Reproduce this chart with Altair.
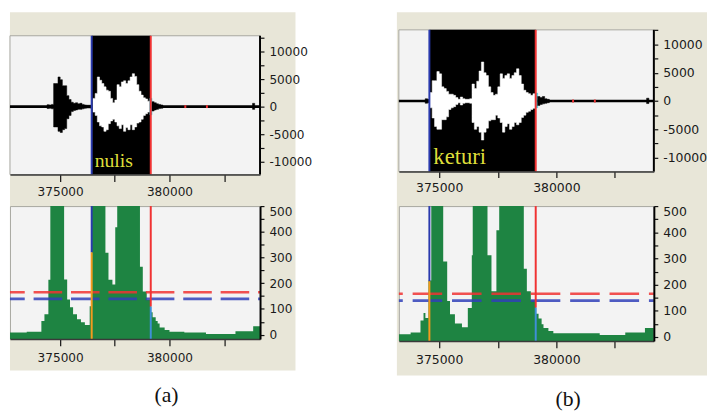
import altair as alt
import pandas as pd

BIN = 100
BEIGE = "#E8E6D8"
PLOT_BG = "#F3F3F3"
GREEN = "#1E8442"
RED = "#F03232"
BLUE = "#2A3AAE"
ORANGE = "#F39A1E"
LIGHTBLUE = "#3F8FD8"
CYAN = "#3CC8D8"
YELLOW = "#DEDE3A"
AXFONT = "DejaVu Sans"

x_tick_values = [372500, 375000, 377500, 380000, 382500]
wave_tick_values = [-12500, -10000, -7500, -5000, -2500, 0, 2500, 5000, 7500, 10000, 12500]
energy_tick_values = [0, 50, 100, 150, 200, 250, 300, 350, 400, 450, 500]
thresholds = [165, 139]  # red, blue

# ---------------- panel (a) ----------------
a_word = "nulis"
a_word_pos = [376577, -10931]
a_caption = "(a)"
a_caption_pos = [379865, -235]
a_sel = [376442, 379144]
a_wave_start = 374400
a_wave_top = [350, 300, 400, 4200, 4200, 5400, 4900, 3800, 3800, 2000, 1300, 800, 600, 700, 500, 600,
              400, 300, 250, 250, 300, 1500, 2400, 5400, 4800, 4200, 3600, 3000, 2800, 1500, 700, 1200,
              4000, 3600, 4500, 4700, 4200, 4700, 5400, 6000, 5500, 4000, 2800, 2100, 1600, 1400, 1000,
              1500, 900, 700, 500, 400, 300]
a_wave_bot = [-350, -300, -400, -3700, -3700, -4500, -4700, -4200, -4000, -2200, -1600, -900, -700, -600,
              -500, -500, -400, -300, -250, -250, -300, -1000, -1600, -2800, -3500, -3700, -4500, -4200,
              -3100, -2600, -2300, -2800, -3500, -4000, -3300, -4500, -3800, -4200, -3300, -4200, -3700,
              -3000, -2800, -2300, -1600, -1300, -1000, -1500, -800, -600, -500, -350, -300]
a_marker_x = [380680, 381670]
a_bump_x = [383800]
a_bump_top = [600]
a_bump_bot = [-500]
a_energy_x = [372703, 373470, 374140, 374280, 374460, 374550, 375180, 375320, 375450, 375590, 375770,
              375950, 376130, 376350, 376440, 377070, 377210, 377390, 377520, 377610, 378650, 378780,
              378960, 379140, 379230, 379370, 379460, 379550, 379780, 380000, 380680, 381670, 383020,
              383830]
a_energy_v = [8, 11, 53, 79, 213, 600, 214, 137, 106, 79, 60, 48, 37, 110, 600, 318, 213, 195, 418, 600,
              264, 168, 135, 87, 68, 53, 43, 28, 18, 11, 8, 2, 13, 33]
a_energy_split = [320, 109]

# ---------------- panel (b) ----------------
b_word = "keturi"
b_word_pos = [374748, -11080]
b_caption = "(b)"
b_caption_pos = [380504, -237]
b_sel = [374580, 379118]
b_wave_start = 374400
b_wave_top = [400, 300, 1500, 3600, 3600, 5200, 4800, 2500, 2200, 1700, 1200, 1200, 1000, 600, 300, 700,
              400, 300, 300, 400, 3000, 2200, 3500, 5300, 6900, 5000, 4500, 2500, 1500, 1000, 1200, 2500,
              4800, 4000, 4500, 4800, 4000, 4500, 5000, 5700, 4500, 3000, 1900, 1500, 1300, 1000, 1300,
              1400, 800, 600, 800, 400, 300]
b_wave_bot = [-400, -300, -1200, -3000, -4500, -5000, -5000, -3300, -3300, -2800, -1500, -1200, -1000,
              -600, -300, -700, -400, -300, -300, -400, -3800, -5000, -4500, -5500, -6900, -5500, -4800,
              -3500, -3300, -3300, -2500, -3000, -3800, -5500, -4500, -4000, -5000, -4500, -3800, -4200,
              -3800, -2900, -2500, -2000, -1800, -1500, -1300, -1200, -800, -600, -500, -400, -300]
b_marker_x = [380670, 381600]
b_bump_x = [383850]
b_bump_top = [500]
b_bump_bot = [-450]
b_energy_x = [373277, 373780, 374200, 374330, 374410, 374540, 374660, 375170, 375340, 375460, 375670,
              375970, 376220, 376390, 376430, 377060, 377230, 377440, 377560, 378610, 378740, 378910,
              379120, 379240, 379370, 379450, 379660, 379870, 381850, 382940, 383780]
b_energy_v = [11, 17, 63, 92, 73, 216, 600, 288, 138, 87, 52, 37, 111, 312, 600, 312, 175, 408, 600, 261,
              175, 140, 89, 71, 49, 34, 23, 14, 8, 17, 34]
b_energy_split = [213, 112]

# layout / style parameters per panel
A = dict(x_domain=[372703, 384144], width=254, wave_domain=[-12370, 12900], wave_h=141, pad_top=6,
         band_px=[0, 290, -18, 346], energy_domain=[-17, 500], energy_h=135, font=12.3,
         wave_tick=7, wave_lpad=4, en_tick=7, en_lpad=6, word_size=20, dash=[29, 9], dash_off=14,
         word=a_word, word_pos=a_word_pos, caption=a_caption, caption_pos=a_caption_pos, sel=a_sel,
         wave_start=a_wave_start, wave_top=a_wave_top, wave_bot=a_wave_bot, marker_x=a_marker_x,
         bump_x=a_bump_x, bump_top=a_bump_top, bump_bot=a_bump_bot, energy_x=a_energy_x,
         energy_v=a_energy_v, energy_split=a_energy_split)
B = dict(x_domain=[373277, 384160], width=259, wave_domain=[-12480, 12580], wave_h=144, pad_top=0,
         band_px=[-2, 313, -18, 351], energy_domain=[-15, 500], energy_h=137, font=12.6,
         wave_tick=6, wave_lpad=4, en_tick=7, en_lpad=6, word_size=23, dash=[30, 10], dash_off=26,
         word=b_word, word_pos=b_word_pos, caption=b_caption, caption_pos=b_caption_pos, sel=b_sel,
         wave_start=b_wave_start, wave_top=b_wave_top, wave_bot=b_wave_bot, marker_x=b_marker_x,
         bump_x=b_bump_x, bump_top=b_bump_top, bump_bot=b_bump_bot, energy_x=b_energy_x,
         energy_v=b_energy_v, energy_split=b_energy_split)


def wave_color(s, sel):
    if s < sel[0]:
        return "black"
    if s + BIN <= sel[1]:
        return "white"
    if s < sel[1]:
        return CYAN
    return "black"


def wave_segments(p):
    """Split the envelope into runs of equal colour; each run is a step-area."""
    segs = []
    cur = None
    n = len(p["wave_top"])
    for i, (hi, lo) in enumerate(zip(p["wave_top"], p["wave_bot"])):
        s = p["wave_start"] + i * BIN
        c = wave_color(s, p["sel"])
        if cur is None or c != cur["c"]:
            if cur is not None:
                last = cur["rows"][-1]
                cur["rows"].append({"x": s, "lo": last["lo"], "hi": last["hi"]})
            cur = {"c": c, "rows": []}
            segs.append(cur)
        cur["rows"].append({"x": s, "lo": lo, "hi": hi})
    last = cur["rows"][-1]
    cur["rows"].append({"x": p["wave_start"] + n * BIN, "lo": last["lo"], "hi": last["hi"]})
    for s, hi, lo in zip(p["bump_x"], p["bump_top"], p["bump_bot"]):
        segs.append({"c": "black", "rows": [{"x": s, "lo": lo, "hi": hi},
                                            {"x": s + BIN, "lo": lo, "hi": hi}]})
    return [(sg["c"], pd.DataFrame(sg["rows"])) for sg in segs]


def build(p):
    xd = p["x_domain"]
    W = p["width"]
    upx = (xd[1] - xd[0]) / W
    wb, wt = p["wave_domain"]
    upy = (wt - wb) / p["wave_h"]
    ytop = wt + p["pad_top"] * upy
    H = p["wave_h"] + p["pad_top"]
    fs = p["font"]
    xs = alt.Scale(domain=xd, nice=False, zero=False)
    ys = alt.Scale(domain=[wb, ytop], nice=False, zero=False)
    xticks = [v for v in x_tick_values if xd[0] <= v <= xd[1]]

    def xaxis(tick, pad):
        return alt.Axis(values=xticks, format="d",
                        labelExpr="datum.value % 5000 == 0 ? datum.label : ''",
                        title=None, grid=False, tickSize=tick, labelPadding=pad,
                        domainColor="#3a3a3a", domainWidth=1.5, tickColor="#111111", tickWidth=1.2,
                        labelFont=AXFONT, labelFontSize=fs, labelColor="#1a1a1a",
                        labelOverlap=False, labelFlush=False, zindex=1)

    wyaxis = alt.Axis(orient="right", values=[v for v in wave_tick_values if wb <= v <= wt],
                      labelExpr="datum.value % 5000 == 0 ? '' + datum.value : ''",
                      title=None, grid=False, domain=False, tickSize=4, labelPadding=5,
                      tickColor="#111111", tickWidth=1.2, labelFont=AXFONT, labelFontSize=fs,
                      labelColor="#1a1a1a", labelOverlap=False, labelFlush=False, zindex=1)
    wxaxis = xaxis(p["wave_tick"], p["wave_lpad"])

    X = lambda f: alt.X(f, type="quantitative", scale=xs, axis=wxaxis)
    Y = lambda f: alt.Y(f, type="quantitative", scale=ys, axis=wyaxis)

    bx0, bx1, btop, bbot = p["band_px"]
    beige = alt.Chart(pd.DataFrame({
        "x": [xd[0] + bx0 * upx], "x2": [xd[0] + bx1 * upx],
        "y": [ytop - bbot * upy], "y2": [ytop - btop * upy]})).mark_rect(
        color=BEIGE, clip=False).encode(x=X("x"), x2="x2", y=Y("y"), y2="y2")
    bg = alt.Chart(pd.DataFrame({"x": [xd[0]], "x2": [xd[1]], "y": [wb], "y2": [wt]})).mark_rect(
        color=PLOT_BG, stroke="#A8A8A0", strokeWidth=1).encode(x=X("x"), x2="x2", y=Y("y"), y2="y2")
    baseline = alt.Chart(pd.DataFrame({"x": [xd[0]], "x2": [xd[1]], "y": [0]})).mark_rule(
        color="black", strokeWidth=2.6).encode(x=X("x"), x2="x2", y=Y("y"))
    sel = p["sel"]
    selrect = alt.Chart(pd.DataFrame({"x": [sel[0]], "x2": [sel[1]], "y": [wb], "y2": [wt]})).mark_rect(
        color="black").encode(x=X("x"), x2="x2", y=Y("y"), y2="y2")

    waves = []
    for c, df in wave_segments(p):
        waves.append(alt.Chart(df).mark_area(interpolate="step-after", color=c, opacity=1,
                                             stroke=c, strokeWidth=0.5).encode(
            x=X("x"), y=Y("lo"), y2=alt.Y2("hi")))

    markers = alt.Chart(pd.DataFrame({"x": p["marker_x"], "x2": [v + 2 * upx for v in p["marker_x"]],
                                      "y": [-260] * len(p["marker_x"]),
                                      "y2": [260] * len(p["marker_x"])})).mark_rect(
        color="#E83030").encode(x=X("x"), x2="x2", y=Y("y"), y2="y2")

    bounds = alt.Chart(pd.DataFrame({"x": [sel[0], sel[1]], "y": [wb, wb], "y2": [wt, wt],
                                     "c": [BLUE, RED]})).mark_rule(strokeWidth=2).encode(
        x=X("x"), y=Y("y"), y2="y2", color=alt.Color("c:N", scale=None))
    rdomain = alt.Chart(pd.DataFrame({"x": [xd[1]], "y": [wb], "y2": [wt]})).mark_rule(
        color="black", strokeWidth=2).encode(x=X("x"), y=Y("y"), y2="y2")
    word = alt.Chart(pd.DataFrame({"x": [p["word_pos"][0]], "y": [p["word_pos"][1]],
                                   "t": [p["word"]]})).mark_text(
        align="left", baseline="alphabetic", font="Liberation Serif", fontSize=p["word_size"],
        color=YELLOW).encode(x=X("x"), y=Y("y"), text="t:N")

    wave_chart = alt.layer(beige, bg, baseline, selrect, *waves, markers, bounds, rdomain, word).properties(
        width=W, height=H)

    # ---- energy ----
    eb, et = p["energy_domain"]
    EH = p["energy_h"]
    es = alt.Scale(domain=[eb, et], nice=False, zero=False)
    eyaxis = alt.Axis(orient="right", values=energy_tick_values,
                      labelExpr="datum.value % 100 == 0 ? '' + datum.value : ''",
                      title=None, grid=False, domainColor="black", domainWidth=2, tickSize=4,
                      labelPadding=5, tickColor="#111111", tickWidth=1.2, labelFont=AXFONT,
                      labelFontSize=fs, labelColor="#1a1a1a", labelOverlap=False, labelFlush=1,
                      zindex=1)
    exaxis = xaxis(p["en_tick"], p["en_lpad"])
    EX = lambda f: alt.X(f, type="quantitative", scale=xs, axis=exaxis)
    EY = lambda f: alt.Y(f, type="quantitative", scale=es, axis=eyaxis, stack=None)

    ex = p["energy_x"] + [xd[1]]
    ev = p["energy_v"] + [p["energy_v"][-1]]
    bars = alt.Chart(pd.DataFrame({"x": ex, "v": ev})).mark_area(
        color=GREEN, interpolate="step-after", clip=True, opacity=1).encode(
        x=EX("x"), y=EY("v"), y2=alt.value(EH))
    thr = []
    for val, col in zip(thresholds, [RED, "#3040B8"]):
        thr.append(alt.Chart(pd.DataFrame({"x": [xd[0]], "x2": [xd[1]], "y": [val]})).mark_rule(
            color=col, strokeWidth=2.6, strokeDash=p["dash"], strokeDashOffset=p["dash_off"],
            opacity=0.85).encode(x=EX("x"), x2="x2", y=EY("y")))
    sp = p["energy_split"]
    upper = alt.Chart(pd.DataFrame({"x": [sel[0], sel[1]], "y": sp, "c": [BLUE, RED]})).mark_rule(
        strokeWidth=2).encode(x=EX("x"), y=EY("y"), y2=alt.value(0), color=alt.Color("c:N", scale=None))
    lower = alt.Chart(pd.DataFrame({"x": [sel[0], sel[1]], "y": sp, "c": [ORANGE, LIGHTBLUE]})).mark_rule(
        strokeWidth=2).encode(x=EX("x"), y=EY("y"), y2=alt.value(EH), color=alt.Color("c:N", scale=None))
    cap = alt.Chart(pd.DataFrame({"x": [p["caption_pos"][0]], "y": [p["caption_pos"][1]],
                                  "t": [p["caption"]]})).mark_text(
        align="center", baseline="middle", font="Liberation Serif", fontSize=22, color="#111111").encode(
        x=EX("x"), y=EY("y"), text="t:N")
    energy_chart = alt.layer(bars, *thr, upper, lower, cap).properties(width=W, height=EH)
    return wave_chart, energy_chart


wa, ea = build(A)
wb_, eb_ = build(B)

chart = alt.concat(wa, wb_, ea, eb_, columns=2, spacing={"row": 32, "column": 141},
                   bounds="flush", align="none").properties(
    padding={"left": 0, "top": 0, "right": 0, "bottom": 0}).configure_view(
    fill=PLOT_BG, stroke="#A8A8A0", strokeWidth=1)

chart.save("out.html", embed_options={"renderer": "svg", "actions": False})
